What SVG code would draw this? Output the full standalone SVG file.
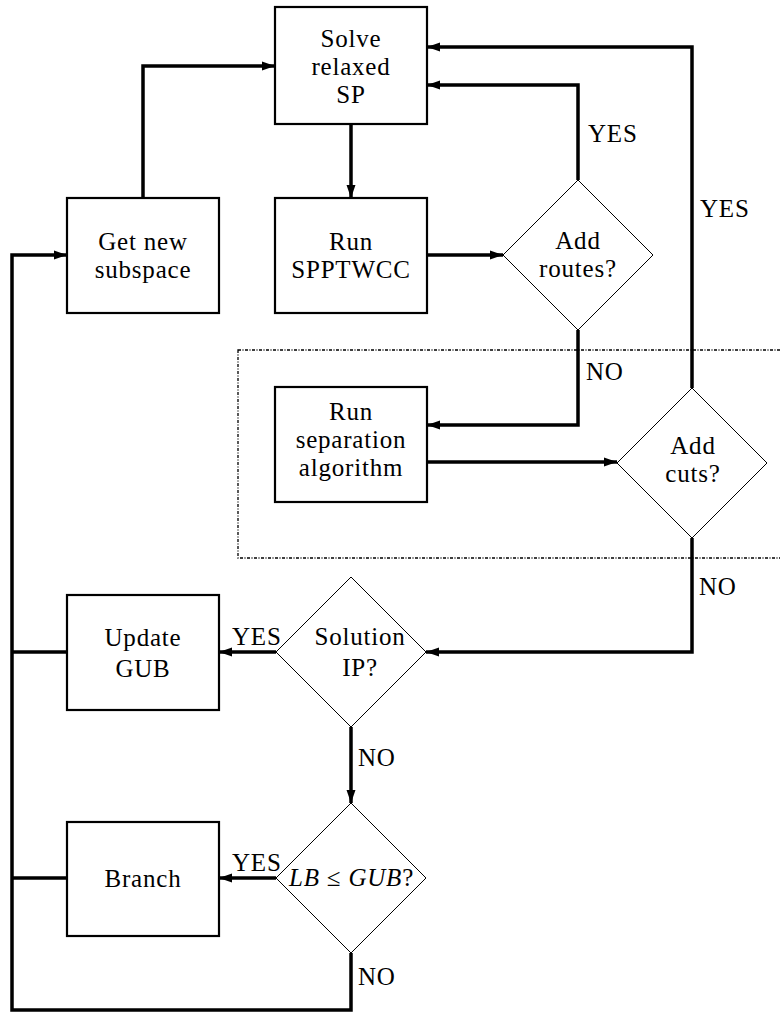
<svg xmlns="http://www.w3.org/2000/svg" width="780" height="1012" viewBox="0 0 780 1012">
<style>
.box{fill:#fff;stroke:#000;stroke-width:2.2}
.dia{fill:#fff;stroke:#000;stroke-width:1}
.c{fill:none;stroke:#000;stroke-width:3.5}
text{font-family:'Liberation Serif','DejaVu Serif',serif;font-size:25px;letter-spacing:0.8px;fill:#000}
.m{text-anchor:middle}
</style>
<defs>
<marker id="ah" markerUnits="userSpaceOnUse" markerWidth="14" markerHeight="10" refX="13" refY="5" orient="auto">
<path d="M0,0.5 L13,5 L0,9.5 z" fill="#000"/>
</marker>
</defs>
<rect x="238" y="350" width="560" height="208" fill="none" stroke="#000" stroke-width="1.3" stroke-dasharray="3 1.5 1 1.5"/>
<g id="connectors">
<path class="c" d="M143,198 V66 H275" marker-end="url(#ah)"/>
<path class="c" d="M351,124 V198" marker-end="url(#ah)"/>
<path class="c" d="M427,255 H503" marker-end="url(#ah)"/>
<path class="c" d="M578,180 V85 H427" marker-end="url(#ah)"/>
<path class="c" d="M578,330 V425 H427" marker-end="url(#ah)"/>
<path class="c" d="M427,462 H617" marker-end="url(#ah)"/>
<path class="c" d="M692,388 V47 H427" marker-end="url(#ah)"/>
<path class="c" d="M692,538 V652 H426" marker-end="url(#ah)"/>
<path class="c" d="M276,652 H219" marker-end="url(#ah)"/>
<path class="c" d="M351,727 V803" marker-end="url(#ah)"/>
<path class="c" d="M276,878 H219" marker-end="url(#ah)"/>
<path class="c" d="M351,953 V1010 H12 V255 H67" marker-end="url(#ah)"/>
<path class="c" d="M67,652 H12"/>
<path class="c" d="M67,878 H12"/>
<text x="588" y="142">YES</text>
<text x="700" y="217">YES</text>
<text x="586" y="380">NO</text>
<text x="699" y="595">NO</text>
<text x="232" y="645">YES</text>
<text x="358" y="766">NO</text>
<text x="232" y="871">YES</text>
<text x="358" y="985">NO</text>
</g>
<g id="solve">
<rect class="box" x="275" y="7" width="152" height="117"/>
<text class="m" x="351" y="47">Solve<tspan x="351" dy="28">relaxed</tspan><tspan x="351" dy="28">SP</tspan></text>
</g>
<g id="getnew">
<rect class="box" x="67" y="198" width="152" height="115"/>
<text class="m" x="143" y="250">Get new<tspan x="143" dy="28">subspace</tspan></text>
</g>
<g id="runspp">
<rect class="box" x="275" y="198" width="152" height="115"/>
<text class="m" x="351" y="250">Run<tspan x="351" dy="28">SPPTWCC</tspan></text>
</g>
<g id="addroutes">
<path class="dia" d="M578,180 L653,255 L578,330 L503,255 Z"/>
<text class="m" x="578" y="249">Add<tspan x="578" dy="28">routes?</tspan></text>
</g>
<g id="runsep">
<rect class="box" x="275" y="387" width="152" height="115"/>
<text class="m" x="351" y="420">Run<tspan x="351" dy="28">separation</tspan><tspan x="351" dy="28">algorithm</tspan></text>
</g>
<g id="addcuts">
<path class="dia" d="M692,388 L767,463 L692,538 L617,463 Z"/>
<text class="m" x="693" y="454">Add<tspan x="693" dy="28">cuts?</tspan></text>
</g>
<g id="solution">
<path class="dia" d="M351,577 L426,652 L351,727 L276,652 Z"/>
<text class="m" x="360" y="645">Solution<tspan x="360" dy="31">IP?</tspan></text>
</g>
<g id="update">
<rect class="box" x="67" y="595" width="152" height="115"/>
<text class="m" x="143" y="646">Update<tspan x="143" dy="31">GUB</tspan></text>
</g>
<g id="lb">
<path class="dia" d="M351,803 L426,878 L351,953 L276,878 Z"/>
<text x="289" y="886"><tspan font-style="italic">LB</tspan> ≤ <tspan font-style="italic">GUB</tspan>?</text>
</g>
<g id="branch">
<rect class="box" x="67" y="822" width="152" height="114"/>
<text class="m" x="143" y="887">Branch</text>
</g>
</svg>
